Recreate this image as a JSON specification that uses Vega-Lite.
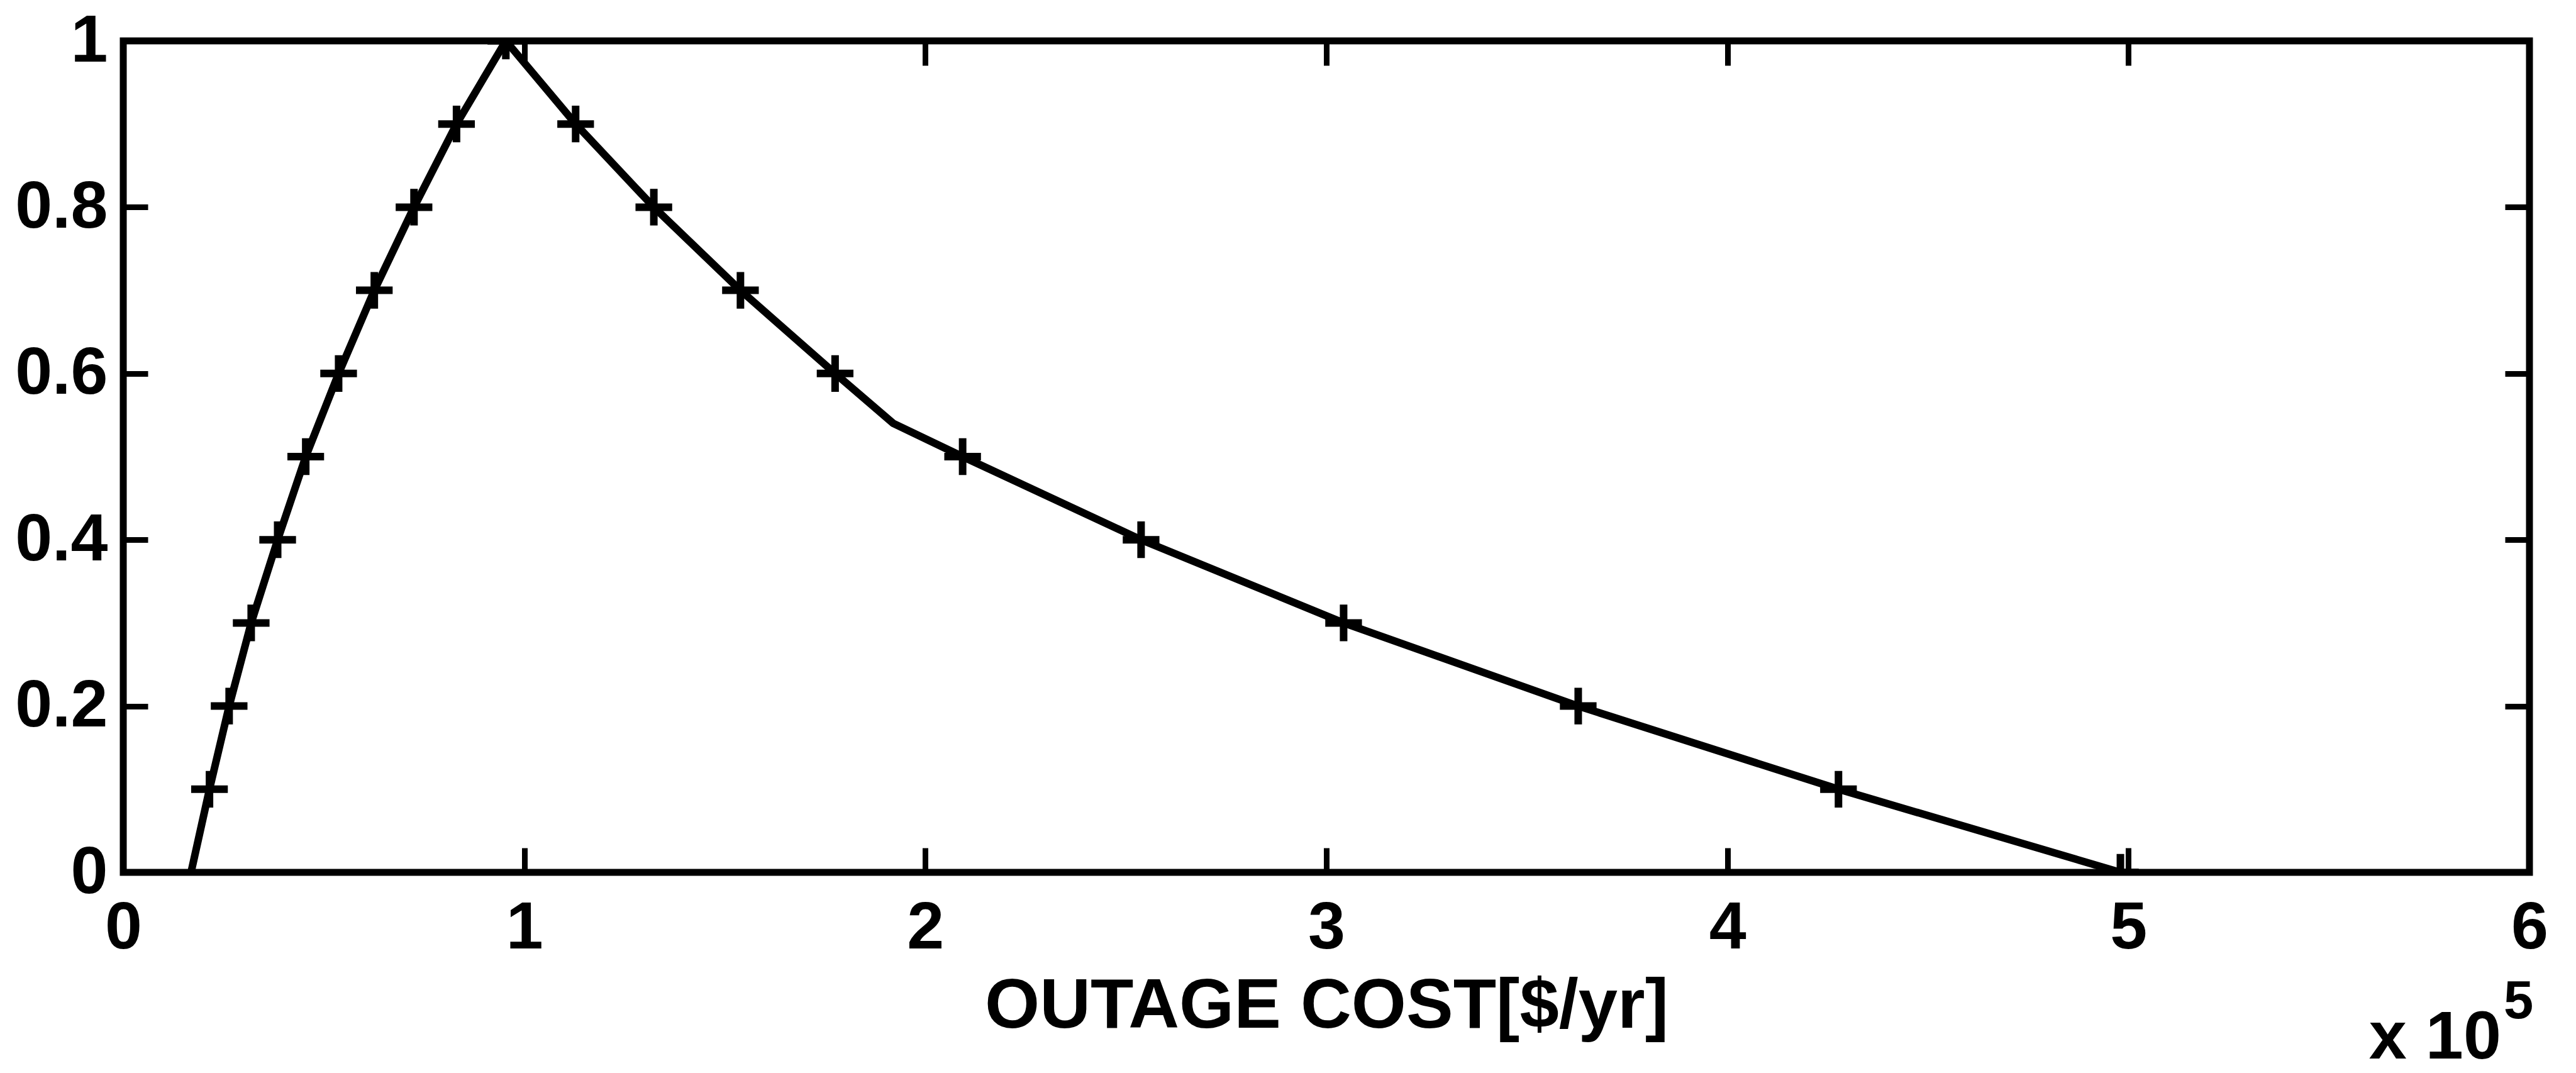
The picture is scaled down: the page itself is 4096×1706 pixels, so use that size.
{
  "$schema": "https://vega.github.io/schema/vega-lite/v6.json",
  "width": 3826,
  "height": 1322,
  "autosize": "none",
  "padding": {"left": 196, "top": 65, "right": 74, "bottom": 319},
  "background": "white",
  "config": {
    "view": {"stroke": "black", "strokeWidth": 11},
    "axis": {"grid": false, "domain": false, "tickColor": "black", "tickWidth": 9, "tickSize": -39, "labelColor": "black", "titleColor": "black", "labelFlush": false, "labelOverlap": false}
  },
  "data": {
    "values": [
      {"cost": 16900, "mu": 0, "m": false},
      {"cost": 21500, "mu": 0.1, "m": true},
      {"cost": 26400, "mu": 0.2, "m": true},
      {"cost": 31900, "mu": 0.3, "m": true},
      {"cost": 38500, "mu": 0.4, "m": true},
      {"cost": 45500, "mu": 0.5, "m": true},
      {"cost": 53700, "mu": 0.6, "m": true},
      {"cost": 62600, "mu": 0.7, "m": true},
      {"cost": 72500, "mu": 0.8, "m": true},
      {"cost": 83100, "mu": 0.9, "m": true},
      {"cost": 95400, "mu": 1.0, "m": true},
      {"cost": 112800, "mu": 0.9, "m": true},
      {"cost": 132300, "mu": 0.8, "m": true},
      {"cost": 153900, "mu": 0.7, "m": true},
      {"cost": 177500, "mu": 0.6, "m": true},
      {"cost": 192000, "mu": 0.54, "m": false},
      {"cost": 209300, "mu": 0.5, "m": true},
      {"cost": 253800, "mu": 0.4, "m": true},
      {"cost": 304300, "mu": 0.3, "m": true},
      {"cost": 362800, "mu": 0.2, "m": true},
      {"cost": 427700, "mu": 0.1, "m": true},
      {"cost": 498000, "mu": 0, "m": true}
    ]
  },
  "layer": [
    {
      "mark": {"type": "line", "color": "black", "strokeWidth": 12, "strokeJoin": "round", "clip": true},
      "encoding": {
        "x": {"field": "cost", "type": "quantitative", "scale": {"domain": [0, 600000], "nice": false, "zero": false},
          "axis": {"orient": "bottom", "values": [0, 100000, 200000, 300000, 400000, 500000, 600000], "labelExpr": "'' + (datum.value / 100000)", "labelPadding": 75, "labelFont": "Liberation Sans", "labelFontWeight": "bold", "labelFontSize": 106, "title": "OUTAGE COST[$/yr]", "titleFont": "Liberation Sans", "titleFontWeight": "bold", "titleFontSize": 112, "titlePadding": 17}},
        "y": {"field": "mu", "type": "quantitative", "scale": {"domain": [0, 1], "nice": false, "zero": false},
          "axis": {"orient": "left", "values": [0, 0.2, 0.4, 0.6, 0.8, 1], "labelExpr": "'' + datum.value", "labelPadding": 64, "labelFont": "Liberation Sans", "labelFontWeight": "bold", "labelFontSize": 106, "title": null}}
      }
    },
    {
      "transform": [{"filter": "datum.m"}],
      "mark": {"type": "point", "shape": "M-1,0L1,0M0,-1L0,1", "filled": false, "color": "black", "strokeWidth": 12, "size": 3400, "opacity": 1, "clip": true},
      "encoding": {
        "x": {"field": "cost", "type": "quantitative", "scale": {"domain": [0, 600000], "nice": false, "zero": false},
          "axis": {"orient": "top", "values": [0, 100000, 200000, 300000, 400000, 500000, 600000], "labels": false, "title": null}},
        "y": {"field": "mu", "type": "quantitative", "scale": {"domain": [0, 1], "nice": false, "zero": false},
          "axis": {"orient": "right", "values": [0, 0.2, 0.4, 0.6, 0.8, 1], "labels": false, "title": null}}
      }
    },
    {
      "data": {"values": [{"t": "x 10", "e": "5"}]},
      "mark": {"type": "text", "align": "right", "baseline": "alphabetic", "dx": -45, "dy": 296, "font": "Liberation Sans", "fontWeight": "bold", "fontSize": 108, "color": "black"},
      "encoding": {
        "x": {"datum": 600000, "type": "quantitative", "scale": {"domain": [0, 600000], "nice": false, "zero": false}, "axis": null},
        "y": {"datum": 0, "type": "quantitative", "scale": {"domain": [0, 1], "nice": false, "zero": false}, "axis": null},
        "text": {"field": "t"}
      }
    },
    {
      "data": {"values": [{"t": "x 10", "e": "5"}]},
      "mark": {"type": "text", "align": "left", "baseline": "alphabetic", "dx": -41, "dy": 232, "font": "Liberation Sans", "fontWeight": "bold", "fontSize": 85, "color": "black"},
      "encoding": {
        "x": {"datum": 600000, "type": "quantitative", "scale": {"domain": [0, 600000], "nice": false, "zero": false}, "axis": null},
        "y": {"datum": 0, "type": "quantitative", "scale": {"domain": [0, 1], "nice": false, "zero": false}, "axis": null},
        "text": {"field": "e"}
      }
    }
  ],
  "resolve": {"axis": {"x": "independent", "y": "independent"}}
}
